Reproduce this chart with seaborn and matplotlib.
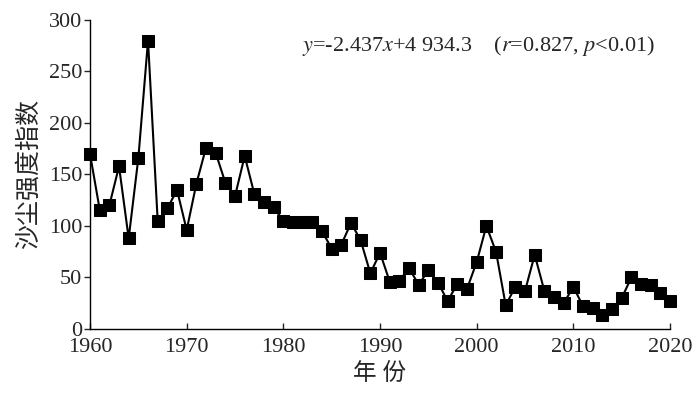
import numpy as np
import pandas as pd
import matplotlib
matplotlib.use("Agg")
import matplotlib.pyplot as plt
import seaborn as sns

# Annual dust intensity index, 1960-2020
years = list(range(1960, 2021))
dust_index = [
    170, 116, 120, 158, 88, 166, 280, 105, 117, 135,
    96, 141, 176, 171, 142, 129, 168, 131, 123, 118,
    105, 104, 104, 104, 95, 78, 82, 103, 86, 54,
    74, 46, 47, 59, 43, 57, 45, 27, 44, 39,
    65, 100, 75, 23, 41, 37, 72, 37, 31, 25,
    41, 22, 20, 14, 19, 30, 50, 44, 43, 35, 27,
]
y_ticks = [0, 50, 100, 150, 200, 250, 300]
x_ticks = [1960, 1970, 1980, 1990, 2000, 2010, 2020]

df = pd.DataFrame({"year": years, "index": dust_index})

sns.set_style("ticks")
plt.rcParams["font.family"] = ["Liberation Serif", "Noto Sans CJK SC"]
plt.rcParams["mathtext.fontset"] = "stix"

fig = plt.figure(figsize=(7, 4.2), dpi=100)
ax = fig.add_axes([0.1286, 0.2167, 0.8286, 0.7357])

sns.lineplot(data=df, x="year", y="index", ax=ax, color="black",
             linewidth=1.5, marker="s", markersize=8.5,
             markeredgecolor="black", markerfacecolor="black",
             clip_on=False, zorder=3)

ax.set_xlim(1960, 2020)
ax.set_ylim(0, 300)
ax.set_xticks(x_ticks)
ax.set_yticks(y_ticks)
ax.tick_params(axis="x", direction="in", length=4.5, width=1, pad=6.5,
               labelsize=16)
ax.tick_params(axis="y", direction="out", length=4.5, width=1, pad=1,
               labelsize=16)
for side in ["top", "right"]:
    ax.spines[side].set_visible(False)
for side in ["left", "bottom"]:
    ax.spines[side].set_linewidth(1)
    ax.spines[side].set_color("black")

ax.set_xlabel("年 份", fontsize=17, labelpad=4)
ax.set_ylabel("沙尘强度指数", fontsize=18, labelpad=6)

ax.text(0.974, 0.915,
        r"$y$=-2.437$x$+4 934.3    ($r$=0.827, $p$<0.01)",
        transform=ax.transAxes, ha="right", va="center", fontsize=16)

fig.savefig("out.png", dpi=100)
